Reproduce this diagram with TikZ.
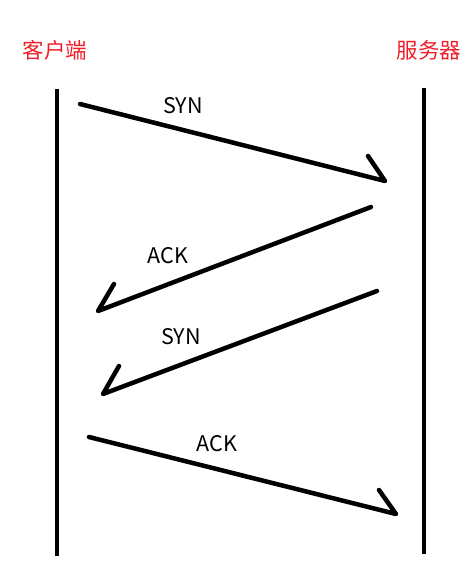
\documentclass[tikz,border=0pt]{standalone}
\usepackage{fontspec}
\setmainfont{Noto Sans CJK SC}
\usetikzlibrary{positioning, calc}
\definecolor{TitleColor}{RGB}{240,30,40}
\tikzstyle{timeline} = [line width=4.5pt, black]
\tikzstyle{msg} = [line width=4.5pt, black, line cap=round, line join=round]
\tikzstyle{party} = [TitleColor, font=\fontsize{21.5}{25}\selectfont]
\tikzstyle{msglabel} = [black, font=\fontsize{21.5}{25}\selectfont]

\begin{document}
\begin{tikzpicture}[x=1pt, y=-1pt]
                \useasboundingbox (0,0) rectangle (465,569);

                % Parties
                \node[party] (client) at (55,50) {客户端};
                \node[party] (server) at (429,50) {服务器};

                % Time lines
                \coordinate (c top) at (57,89);
                \coordinate (c bot) at (57,556);
                \coordinate (s top) at (424,88);
                \coordinate (s bot) at (424,554);
                \draw[timeline] (c top) -- (c bot);
                \draw[timeline] (s top) -- (s bot);

                % Messages
                \coordinate (m1 from) at (80,104);
                \coordinate (m1 to) at (385,181);
                \coordinate (m1 barb) at (368,156);
                \draw[msg] (m1 from) -- (m1 to) -- (m1 barb);
                \node[msglabel] (syn1) at (183,106) {SYN};

                \coordinate (m2 from) at (371,207);
                \coordinate (m2 to) at (98,311);
                \coordinate (m2 barb) at (114,284);
                \draw[msg] (m2 from) -- (m2 to) -- (m2 barb);
                \node[msglabel] (ack1) at (168,256) {ACK};

                \coordinate (m3 from) at (377,291);
                \coordinate (m3 to) at (103,394);
                \coordinate (m3 barb) at (119,366);
                \draw[msg] (m3 from) -- (m3 to) -- (m3 barb);
                \node[msglabel] (syn2) at (181,337) {SYN};

                \coordinate (m4 from) at (89,437);
                \coordinate (m4 to) at (396,514);
                \coordinate (m4 barb) at (379,490);
                \draw[msg] (m4 from) -- (m4 to) -- (m4 barb);
                \node[msglabel] (ack2) at (217,444) {ACK};
            \end{tikzpicture}
\end{document}
